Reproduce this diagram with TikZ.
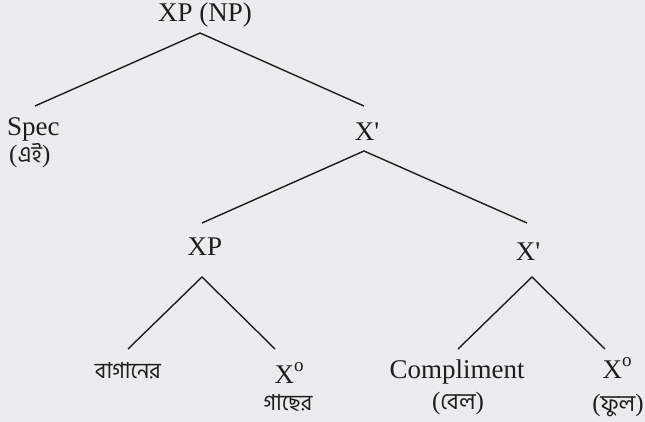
\documentclass[tikz,border=0pt]{standalone}
\usepackage{fontspec}
\setmainfont{Liberation Serif}
\newfontfamily\bn[Script=Bengali]{Hind Siliguri}
\definecolor{bg}{RGB}{236,236,238}
\definecolor{ink}{RGB}{30,30,30}
\newcommand{\Xo}{X\raisebox{0.42em}{\fontsize{19}{19}\selectfont o}}
\newcommand{\Xbar}{X\textquotesingle}
\newcommand{\bng}[1]{{\fontsize{23}{26}\selectfont\bn #1}}
\begin{document}
\begin{tikzpicture}[x=1pt,y=-1pt,
  lbl/.style={anchor=base, inner sep=0pt, text=ink, font=\fontsize{27}{30}\selectfont},
  gloss/.style={anchor=base, inner sep=0pt, text=ink, font=\fontsize{25}{28}\selectfont},
  bnl/.style={anchor=base, inner sep=0pt, text=ink, font=\fontsize{22}{26}\selectfont\bn},
  edge/.style={draw=ink, line width=1.4pt, line join=miter}]
\fill[bg] (0,0) rectangle (645,422);
\useasboundingbox (0,0) rectangle (645,422);
% labels
\node[lbl] (root) at (205,22) {XP (NP)};
\node[lbl, anchor=base west] (spec) at (7,136) {Spec};
\node[gloss, anchor=base west] (specb) at (9,163) {(\bng{এই})};
\node[lbl] (xbar) at (367,141) {\Xbar};
\node[lbl] (xp) at (205,255) {XP};
\node[lbl] (xbarr) at (528,260) {\Xbar};
\node[bnl] (bagan) at (128,378) {বাগানের};
\node[lbl] (xoa) at (289,383) {\Xo};
\node[bnl] (gach) at (288,410) {গাছের};
\node[lbl] (comp) at (457,378) {Compliment};
\node[gloss] (bel) at (458,409) {(\bng{বেল})};
\node[lbl] (xob) at (617,378) {\Xo};
\node[gloss] (phul) at (618,411) {(\bng{ফুল})};
% branch points
\coordinate (a1) at (200,33);  \coordinate (l1) at (35,106);  \coordinate (r1) at (364,106);
\coordinate (a2) at (364,151); \coordinate (l2) at (202,223); \coordinate (r2) at (527,223);
\coordinate (a3) at (202,277); \coordinate (l3) at (128,349); \coordinate (r3) at (275,349);
\coordinate (a4) at (532,277); \coordinate (l4) at (458,349); \coordinate (r4) at (605,349);
\draw[edge] (l1) -- (a1) -- (r1);
\draw[edge] (l2) -- (a2) -- (r2);
\draw[edge] (l3) -- (a3) -- (r3);
\draw[edge] (l4) -- (a4) -- (r4);
\end{tikzpicture}
\end{document}
